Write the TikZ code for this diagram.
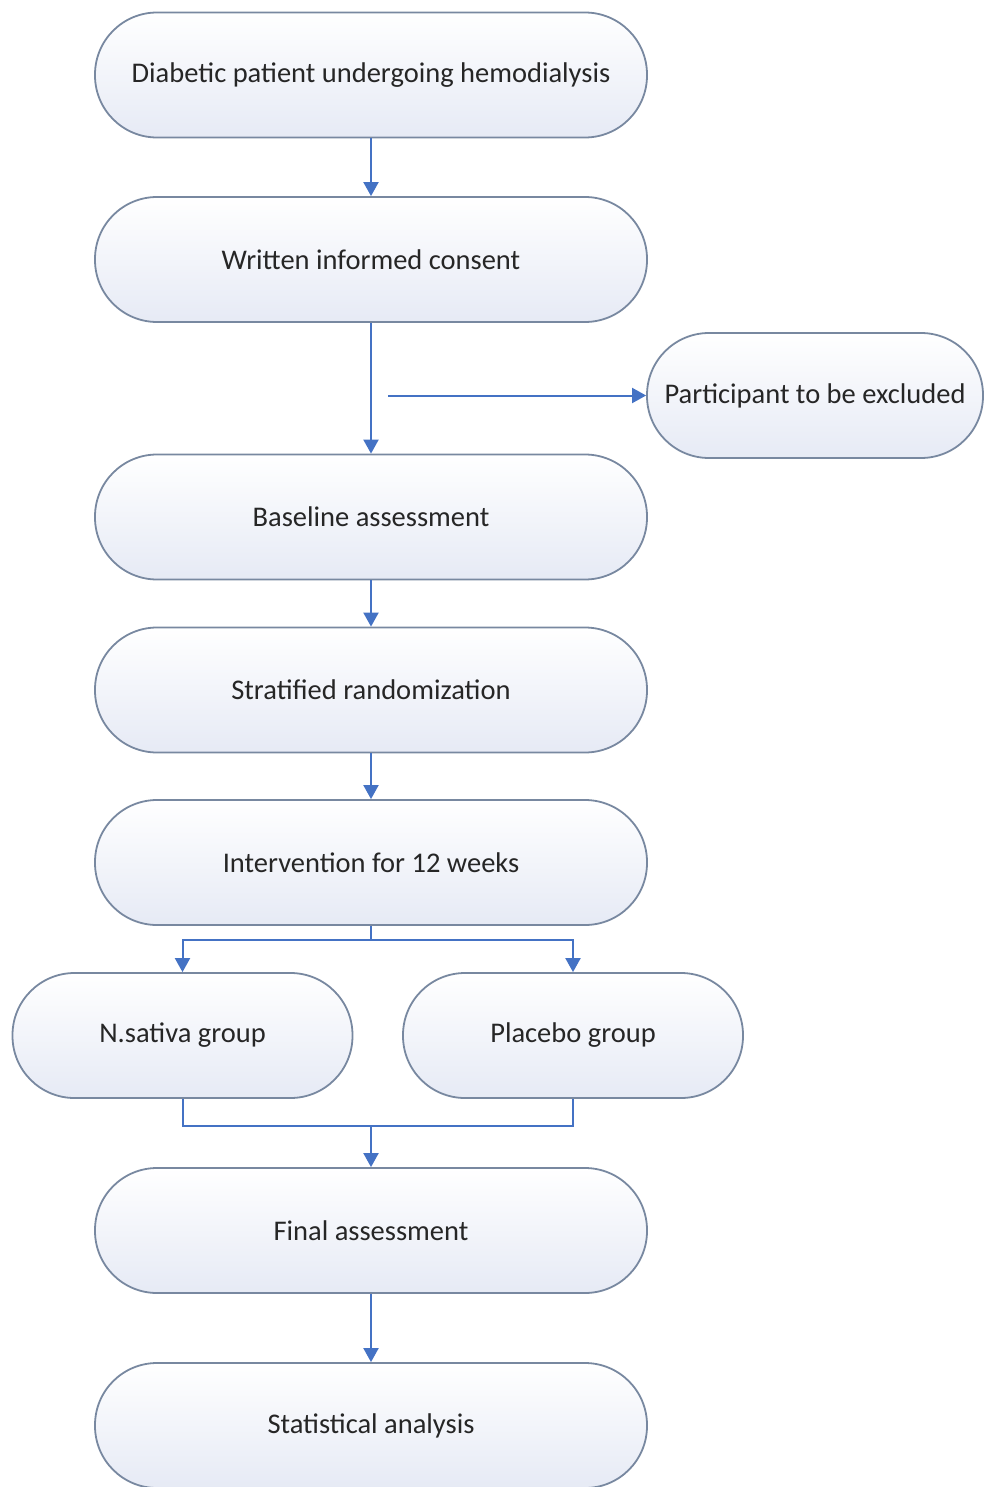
\documentclass[tikz,border=0pt]{standalone}
\usepackage{fontspec}
\setmainfont{Carlito}
\usetikzlibrary{arrows.meta}
\definecolor{linkblue}{RGB}{68,114,196}
\definecolor{boxborder}{RGB}{120,136,160}
\definecolor{boxfill}{RGB}{230,234,245}
\tikzset{
  stadium/.style={draw=boxborder, line width=1.8pt, rounded corners=62pt,
    top color=white, bottom color=boxfill, minimum height=125pt,
    inner sep=0pt, align=center, font=\fontsize{28.5}{32}\selectfont, text=black!85},
  wide/.style={stadium, minimum width=552pt},
  narrow/.style={stadium, minimum width=340pt},
  conn/.style={draw=linkblue, line width=2pt},
  arr/.style={conn, -{Triangle[length=14pt,width=15pt]}},
}
\begin{document}
\begin{tikzpicture}[x=1pt,y=-1pt]
\useasboundingbox (0,0) rectangle (983,1487);
\node[wide] (diab) at (371,75) {Diabetic patient undergoing hemodialysis};
\node[wide] (cons) at (371,259.5) {Written informed consent};
\node[stadium, minimum width=336pt] (excl) at (815,395.5) {Participant to be excluded};
\node[wide] (base) at (371,517) {Baseline assessment};
\node[wide] (strat) at (371,690) {Stratified randomization};
\node[wide] (interv) at (371,862.5) {Intervention for 12 weeks};
\node[narrow] (nsat) at (182.5,1035.5) {N.sativa group};
\node[narrow] (plac) at (573,1035.5) {Placebo group};
\node[wide] (final) at (371,1230.5) {Final assessment};
\node[wide] (stat) at (371,1425.5) {Statistical analysis};
\coordinate (exstart) at (388,395.5);
\coordinate (split) at (371,940);
\coordinate (merge) at (371,1126);
\draw[arr] (diab) -- (cons);
\draw[arr] (cons) -- (base);
\draw[arr] (exstart) -- (excl.west);
\draw[arr] (base) -- (strat);
\draw[arr] (strat) -- (interv);
\draw[conn] (interv.south) -- (split);
\draw[arr] (split) -| (nsat.north);
\draw[arr] (split) -| (plac.north);
\draw[conn] (nsat.south) |- (merge) -| (plac.south);
\draw[arr] (merge) -- (final.north);
\draw[arr] (final) -- (stat);
\end{tikzpicture}
\end{document}
